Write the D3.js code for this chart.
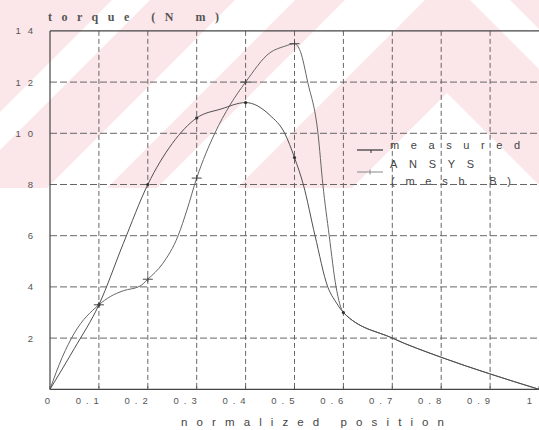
<!DOCTYPE html>
<html><head><meta charset="utf-8">
<script src="https://cdn.jsdelivr.net/npm/d3@7"></script>
<style>
html,body{margin:0;padding:0;background:#fff;}
svg{display:block;}
text{font-family:"Liberation Sans",Arial,sans-serif;fill:#444;}
</style></head><body>
<svg id="chart" width="539" height="430"></svg>
<script>
// ---- data ----
const xTickValues = [0, 0.1, 0.2, 0.3, 0.4, 0.5, 0.6, 0.7, 0.8, 0.9, 1];
const xTickLabels = ["0", "0.1", "0.2", "0.3", "0.4", "0.5", "0.6", "0.7", "0.8", "0.9", "1"];
const yTickValues = [2, 4, 6, 8, 10, 12, 14];
const yTickLabels = ["2", "4", "6", "8", "10", "12", "14"];

const measuredPos    = [0, 0.05, 0.1, 0.15, 0.2, 0.25, 0.3, 0.35, 0.4, 0.45, 0.48, 0.5, 0.518, 0.542, 0.568, 0.585, 0.6, 0.7, 0.8, 0.9, 1.0];
const measuredTorque = [0, 1.6, 3.3, 5.7, 8.0, 9.6, 10.6, 10.95, 11.2, 10.7, 10.0, 9.05, 8.0, 6.0, 4.0, 3.4, 3.0, 2.0, 1.25, 0.6, 0];
const measuredMarkerPos = [0.1, 0.2, 0.3, 0.4, 0.5, 0.6];

const ansysPos    = [0, 0.025, 0.05, 0.1, 0.123, 0.15, 0.184, 0.2, 0.23, 0.262, 0.28, 0.3, 0.337, 0.368, 0.4, 0.45, 0.48, 0.5, 0.512, 0.527, 0.548, 0.558, 0.571, 0.585, 0.6, 0.7, 0.8, 0.9, 1.0];
const ansysTorque = [0, 1.25, 2.2, 3.3, 3.62, 3.85, 4.03, 4.3, 4.9, 6.0, 7.0, 8.25, 10.0, 11.1, 12.0, 13.15, 13.4, 13.5, 13.2, 12.0, 10.0, 8.0, 6.0, 4.0, 3.0, 2.0, 1.25, 0.6, 0];
const ansysMarkerPos = [0.1, 0.2, 0.3, 0.4, 0.5];

const yAxisTitle = "torque (N m)";
const xAxisTitle = "normalized position";
const legendLabels = ["measured", "ANSYS", "(mesh B)"];

// ---- layout ----
const W = 539, H = 430;
const svg = d3.select("#chart");
const x = d3.scaleLinear().domain([0, 1]).range([50, 539]);
const y = d3.scaleLinear().domain([0, 14]).range([389.3, 30.9]);

// ---- watermark background (decorative) ----
const defs = svg.append("defs");
defs.append("clipPath").attr("id", "wm").append("rect")
  .attr("x", 0).attr("y", 0).attr("width", W).attr("height", 188);
const wm = svg.append("g").attr("clip-path", "url(#wm)");
wm.append("rect").attr("width", W).attr("height", 188).attr("fill", "#fbe6e9");
const slashBands = [[112, 150], [235, 295], [345, 425]];
wm.selectAll("polygon.sb").data(slashBands).join("polygon")
  .attr("points", d => `${d[0]},0 ${d[1]},0 0,${d[1]} 0,${d[0]}`)
  .attr("fill", "#fff");
wm.append("polygon").attr("points", "447,93 654,300 240,300").attr("fill", "#fff");
wm.append("polygon").attr("points", "470,0 510,0 810,300 770,300").attr("fill", "#fff");

// ---- grid ----
const grid = svg.append("g");
grid.selectAll("line.vg").data(xTickValues.filter(v => v > 0 && v < 1)).join("line")
  .attr("x1", d => x(d)).attr("x2", d => x(d))
  .attr("y1", y(14)).attr("y2", y(0))
  .attr("stroke", "#666").attr("stroke-width", 1).attr("stroke-dasharray", "5,3");
grid.selectAll("line.hg").data(yTickValues.filter(v => v < 14)).join("line")
  .attr("x1", x(0)).attr("x2", x(1))
  .attr("y1", d => y(d)).attr("y2", d => y(d))
  .attr("stroke", "#666").attr("stroke-width", 1).attr("stroke-dasharray", "7,3");

// ---- frame ----
const frame = svg.append("g").attr("stroke", "#444").attr("stroke-width", 1.2);
frame.append("line").attr("x1", x(0)).attr("x2", x(0)).attr("y1", y(14)).attr("y2", y(0));
frame.append("line").attr("x1", x(0)).attr("x2", x(1)).attr("y1", y(0)).attr("y2", y(0));
frame.append("line").attr("x1", x(0)).attr("x2", x(1)).attr("y1", y(14)).attr("y2", y(14));
svg.append("g").selectAll("line").data(xTickValues).join("line")
  .attr("x1", d => x(d)).attr("x2", d => x(d))
  .attr("y1", y(0)).attr("y2", y(0) - 3)
  .attr("stroke", "#555");

// ---- tick labels ----
svg.append("g").selectAll("text").data(xTickValues).join("text")
  .attr("x", d => Math.min(x(d) + 5, W - 2))
  .attr("y", 404)
  .attr("text-anchor", "end")
  .attr("font-size", 9.5)
  .attr("letter-spacing", "5px")
  .style("fill", "#555")
  .text((d, i) => xTickLabels[i]);
svg.append("g").selectAll("text").data(yTickValues).join("text")
  .attr("x", 40)
  .attr("y", d => y(d) + 3.5)
  .attr("text-anchor", "end")
  .attr("font-size", 9.5)
  .attr("letter-spacing", "7px")
  .style("fill", "#555")
  .text((d, i) => yTickLabels[i]);

// ---- titles ----
svg.append("text").attr("x", 48).attr("y", 21)
  .attr("textLength", 171).attr("lengthAdjust", "spacing")
  .style("font-family", '"Liberation Serif","Times New Roman",serif')
  .style("font-weight", "bold").style("fill", "#555")
  .attr("font-size", 12).text(yAxisTitle);
svg.append("text").attr("x", 181).attr("y", 426)
  .attr("textLength", 263).attr("lengthAdjust", "spacing")
  .attr("font-size", 11.5).style("fill", "#444").text(xAxisTitle);

// ---- curves ----
const line = d3.line().x(d => x(d[0])).y(d => y(d[1])).curve(d3.curveMonotoneX);
const measured = measuredPos.map((p, i) => [p, measuredTorque[i]]);
const ansys = ansysPos.map((p, i) => [p, ansysTorque[i]]);
svg.append("path").attr("d", line(ansys)).attr("fill", "none")
  .attr("stroke", "#666").attr("stroke-width", 1);
svg.append("path").attr("d", line(measured)).attr("fill", "none")
  .attr("stroke", "#505050").attr("stroke-width", 1);

// markers
svg.append("g").selectAll("circle").data(measuredMarkerPos).join("circle")
  .attr("cx", d => x(d)).attr("cy", d => y(measuredTorque[measuredPos.indexOf(d)]))
  .attr("r", 1.6).attr("fill", "#333");
const plus = svg.append("g").attr("stroke", "#444").attr("stroke-width", 1);
plus.selectAll("line.h").data(ansysMarkerPos).join("line")
  .attr("x1", d => x(d) - 5).attr("x2", d => x(d) + 5)
  .attr("y1", d => y(ansysTorque[ansysPos.indexOf(d)])).attr("y2", d => y(ansysTorque[ansysPos.indexOf(d)]));
plus.selectAll("line.v").data(ansysMarkerPos).join("line")
  .attr("x1", d => x(d)).attr("x2", d => x(d))
  .attr("y1", d => y(ansysTorque[ansysPos.indexOf(d)]) - 3).attr("y2", d => y(ansysTorque[ansysPos.indexOf(d)]) + 3);

// ---- legend ----
const lg = svg.append("g");
lg.append("line").attr("x1", 357).attr("x2", 383).attr("y1", 150).attr("y2", 150)
  .attr("stroke", "#333").attr("stroke-width", 1.2);
lg.append("line").attr("x1", 371).attr("x2", 371).attr("y1", 150).attr("y2", 153)
  .attr("stroke", "#333");
lg.append("line").attr("x1", 357).attr("x2", 383).attr("y1", 172).attr("y2", 172)
  .attr("stroke", "#888").attr("stroke-width", 1);
lg.append("line").attr("x1", 370).attr("x2", 370).attr("y1", 169.5).attr("y2", 174.5)
  .attr("stroke", "#888");
const legendPos = [[390, 149, 130], [390, 168, 84], [391, 184.5, 120]];
lg.selectAll("text").data(legendLabels).join("text")
  .attr("x", (d, i) => legendPos[i][0]).attr("y", (d, i) => legendPos[i][1])
  .attr("textLength", (d, i) => legendPos[i][2]).attr("lengthAdjust", "spacing")
  .attr("font-size", 11).style("fill", "#444")
  .text(d => d);
</script>
</body></html>
